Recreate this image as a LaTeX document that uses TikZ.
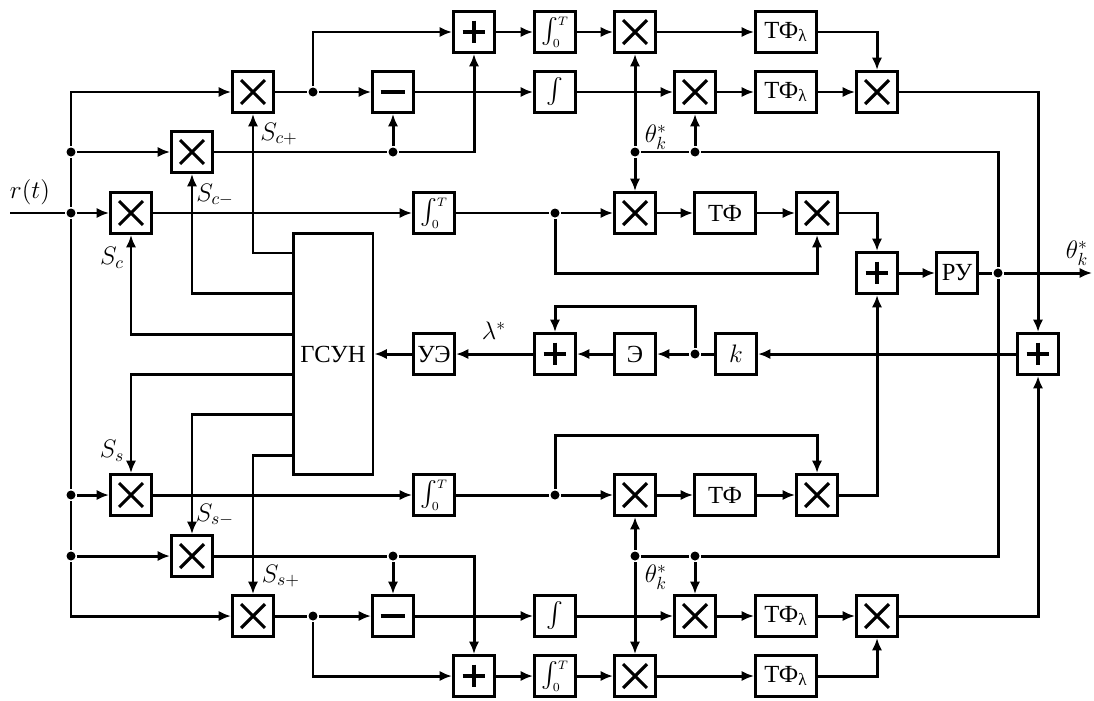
\documentclass[tikz,border=0pt]{standalone}
\usepackage{amsmath}
\usepackage{fontspec}
\setmainfont{Liberation Serif}
\usetikzlibrary{arrows.meta}

\tikzset{
  box/.style={draw, minimum width=0.82cm, minimum height=0.82cm, inner sep=0pt},
  wbox/.style={box, minimum width=1.22cm},
  gbox/.style={box, minimum width=1.6cm, minimum height=4.84cm},
  ibox/.style={box, font=\fontsize{15}{17}\selectfont},
  mul/.style={box, path picture={
    \draw[line width=1.8pt] ([shift={(-6.8pt,-6.8pt)}]path picture bounding box.center) -- ([shift={(6.8pt,6.8pt)}]path picture bounding box.center)
      ([shift={(-6.8pt,6.8pt)}]path picture bounding box.center) -- ([shift={(6.8pt,-6.8pt)}]path picture bounding box.center);}},
  sum/.style={box, path picture={
    \draw[line width=1.8pt] ([shift={(-6.5pt,0pt)}]path picture bounding box.center) -- ([shift={(6.5pt,0pt)}]path picture bounding box.center)
      ([shift={(0pt,6.5pt)}]path picture bounding box.center) -- ([shift={(0pt,-6.5pt)}]path picture bounding box.center);}},
  dif/.style={box, path picture={
    \draw[line width=1.8pt] ([shift={(-7pt,0pt)}]path picture bounding box.center) -- ([shift={(7pt,0pt)}]path picture bounding box.center);}},
  jdot/.style={circle, fill, inner sep=0pt, minimum size=0.18cm},
  sig/.style={-{Latex[length=7pt,width=5.8pt]}}
}

\newcommand{\intT}{$\int_{\scriptscriptstyle 0}^{\scriptscriptstyle T}$}

\begin{document}
\begin{tikzpicture}[x=0.02cm, y=-0.02cm, line width=1.7pt, font=\fontsize{14}{16}\selectfont]
    \useasboundingbox (0,0) rectangle (1094,700);

    % Input and bus
    \coordinate (in) at (10,213);
    \node[jdot] (jb2) at (71,152) {};
    \node[jdot] (jb3) at (71,213) {};
    \node[jdot] (jb5) at (71,495) {};
    \node[jdot] (jb6) at (71,556) {};
    \node (rt) at (30,192) {$r(t)$};

    % Multipliers with reference signals
    \node[mul] (mcp) at (253,92) {};
    \node[mul] (mcm) at (192,152) {};
    \node[mul] (mc) at (131,213) {};
    \node[mul] (ms) at (131,495) {};
    \node[mul] (msm) at (192,556) {};
    \node[mul] (msp) at (253,616) {};

    % Generator
    \node[gbox] (gsun) at (333,354) {ГСУН};

    % Upper branch
    \node[jdot] (jcp) at (313,92) {};
    \node[jdot] (jcm) at (393,152) {};
    \node[sum] (addc) at (474,32) {};
    \node[dif] (subc) at (393,92) {};
    \node[ibox] (intcT) at (555,32) {\intT};
    \node[ibox] (intc) at (555,92) {$\int$};
    \node[mul] (mcA) at (635,32) {};
    \node[mul] (mcB) at (695,92) {};
    \node[wbox] (tfA) at (786,32) {ТФ\textsubscript{λ}};
    \node[wbox] (tfB) at (786,92) {ТФ\textsubscript{λ}};
    \node[mul] (mcC) at (877,92) {};
    \node[jdot] (jth1) at (635,152) {};
    \node[jdot] (jth2) at (695,152) {};
    \coordinate (cth) at (998,152);

    % Cosine channel
    \node[ibox] (icT) at (434,213) {\intT};
    \node[jdot] (jc) at (555,213) {};
    \node[mul] (mcD) at (635,213) {};
    \node[wbox] (tfc) at (725,213) {ТФ};
    \node[mul] (mcE) at (817,213) {};
    \coordinate (cD) at (817,273);

    % Decision
    \node[sum] (sumE) at (877,273) {};
    \node[box] (ru) at (957,273) {РУ};
    \node[jdot] (jout) at (998,273) {};
    \coordinate (out) at (1092,273);

    % Control loop
    \node[box] (ue) at (434,354) {УЭ};
    \node[sum] (sumF) at (555,354) {};
    \node[box] (ee) at (635,354) {Э};
    \node[jdot] (jk) at (695,354) {};
    \node[box] (kk) at (736,354) {$k$};
    \node[sum] (sumK) at (1038,354) {};
    \coordinate (cF) at (555,306);

    % Sine channel
    \node[ibox] (isT) at (434,495) {\intT};
    \node[jdot] (js) at (555,495) {};
    \node[mul] (msD) at (635,495) {};
    \node[wbox] (tfs) at (725,495) {ТФ};
    \node[mul] (msE) at (817,495) {};
    \coordinate (cG) at (817,435);

    % Lower branch
    \node[jdot] (jsm) at (393,556) {};
    \node[jdot] (jsp) at (313,616) {};
    \node[dif] (subs) at (393,616) {};
    \node[sum] (adds) at (474,676) {};
    \node[ibox] (ints) at (555,616) {$\int$};
    \node[ibox] (intsT) at (555,676) {\intT};
    \node[mul] (msB) at (695,616) {};
    \node[mul] (msA) at (635,676) {};
    \node[wbox] (tfsB) at (786,616) {ТФ\textsubscript{λ}};
    \node[wbox] (tfsA) at (786,676) {ТФ\textsubscript{λ}};
    \node[mul] (msC) at (877,616) {};
    \node[jdot] (jth3) at (635,556) {};
    \node[jdot] (jth4) at (695,556) {};
    \coordinate (cthb) at (998,556);

    % Labels
    \node (lcp) at (279,134) {$S_{c+}$};
    \node (lcm) at (215,195) {$S_{c-}$};
    \node (lc) at (112,258) {$S_{c}$};
    \node (ls) at (112,451) {$S_{s}$};
    \node (lsm) at (215,515) {$S_{s-}$};
    \node (lsp) at (281,576) {$S_{s+}$};
    \node (lth1) at (656,137) {$\theta_k^*$};
    \node (lth2) at (656,577) {$\theta_k^*$};
    \node (lth3) at (1077,253) {$\theta_k^*$};
    \node (llam) at (494,331) {$\lambda^*$};

    % Bus
    \draw (in) -- (jb3);
    \draw (jb2) -- (jb3) -- (jb5) -- (jb6);
    \draw[sig] (jb2) |- (mcp);
    \draw[sig] (jb2) -- (mcm);
    \draw[sig] (jb3) -- (mc);
    \draw[sig] (jb5) -- (ms);
    \draw[sig] (jb6) -- (msm);
    \draw[sig] (jb6) |- (msp);

    % Generator outputs
    \draw[sig] (gsun.west |- 0,253) -| (mcp);
    \draw[sig] (gsun.west |- 0,293) -| (mcm);
    \draw[sig] (gsun.west |- 0,334) -| (mc);
    \draw[sig] (gsun.west |- 0,374) -| (ms);
    \draw[sig] (gsun.west |- 0,414) -| (msm);
    \draw[sig] (gsun.west |- 0,455) -| (msp);

    % Upper branch
    \draw[sig] (mcp) -- (jcp) -- (subc);
    \draw[sig] (jcp) |- (addc);
    \draw[sig] (mcm) -- (jcm) -| (addc);
    \draw[sig] (jcm) -- (subc);
    \draw[sig] (addc) -- (intcT);
    \draw[sig] (intcT) -- (mcA);
    \draw[sig] (mcA) -- (tfA);
    \draw[sig] (tfA) -| (mcC);
    \draw[sig] (subc) -- (intc);
    \draw[sig] (intc) -- (mcB);
    \draw[sig] (mcB) -- (tfB);
    \draw[sig] (tfB) -- (mcC);
    \draw[sig] (mcC) -| (sumK);

    % Phase estimate
    \draw (jth1) -- (jth2) -- (cth) -- (jout) -- (cthb) -- (jth4) -- (jth3);
    \draw[sig] (jth1) -- (mcA);
    \draw[sig] (jth1) -- (mcD);
    \draw[sig] (jth2) -- (mcB);
    \draw[sig] (jth3) -- (msD);
    \draw[sig] (jth3) -- (msA);
    \draw[sig] (jth4) -- (msB);

    % Cosine channel
    \draw[sig] (mc) -- (icT);
    \draw[sig] (icT) -- (jc) -- (mcD);
    \draw[sig] (mcD) -- (tfc);
    \draw[sig] (tfc) -- (mcE);
    \draw[sig] (jc) |- (cD) -- (mcE);
    \draw[sig] (mcE) -| (sumE);

    % Decision
    \draw[sig] (sumE) -- (ru);
    \draw[sig] (ru) -- (jout) -- (out);

    % Control loop
    \draw[sig] (sumK) -- (kk);
    \draw[sig] (kk) -- (jk) -- (ee);
    \draw[sig] (jk) |- (cF) -- (sumF);
    \draw[sig] (ee) -- (sumF);
    \draw[sig] (sumF) -- (ue);
    \draw[sig] (ue) -- (gsun);

    % Sine channel
    \draw[sig] (ms) -- (isT);
    \draw[sig] (isT) -- (js) -- (msD);
    \draw[sig] (msD) -- (tfs);
    \draw[sig] (tfs) -- (msE);
    \draw[sig] (js) |- (cG) -- (msE);
    \draw[sig] (msE) -| (sumE);

    % Lower branch
    \draw[sig] (msm) -- (jsm) -| (adds);
    \draw[sig] (jsm) -- (subs);
    \draw[sig] (msp) -- (jsp) -- (subs);
    \draw[sig] (jsp) |- (adds);
    \draw[sig] (subs) -- (ints);
    \draw[sig] (ints) -- (msB);
    \draw[sig] (msB) -- (tfsB);
    \draw[sig] (tfsB) -- (msC);
    \draw[sig] (adds) -- (intsT);
    \draw[sig] (intsT) -- (msA);
    \draw[sig] (msA) -- (tfsA);
    \draw[sig] (tfsA) -| (msC);
    \draw[sig] (msC) -| (sumK);
\end{tikzpicture}
\end{document}
